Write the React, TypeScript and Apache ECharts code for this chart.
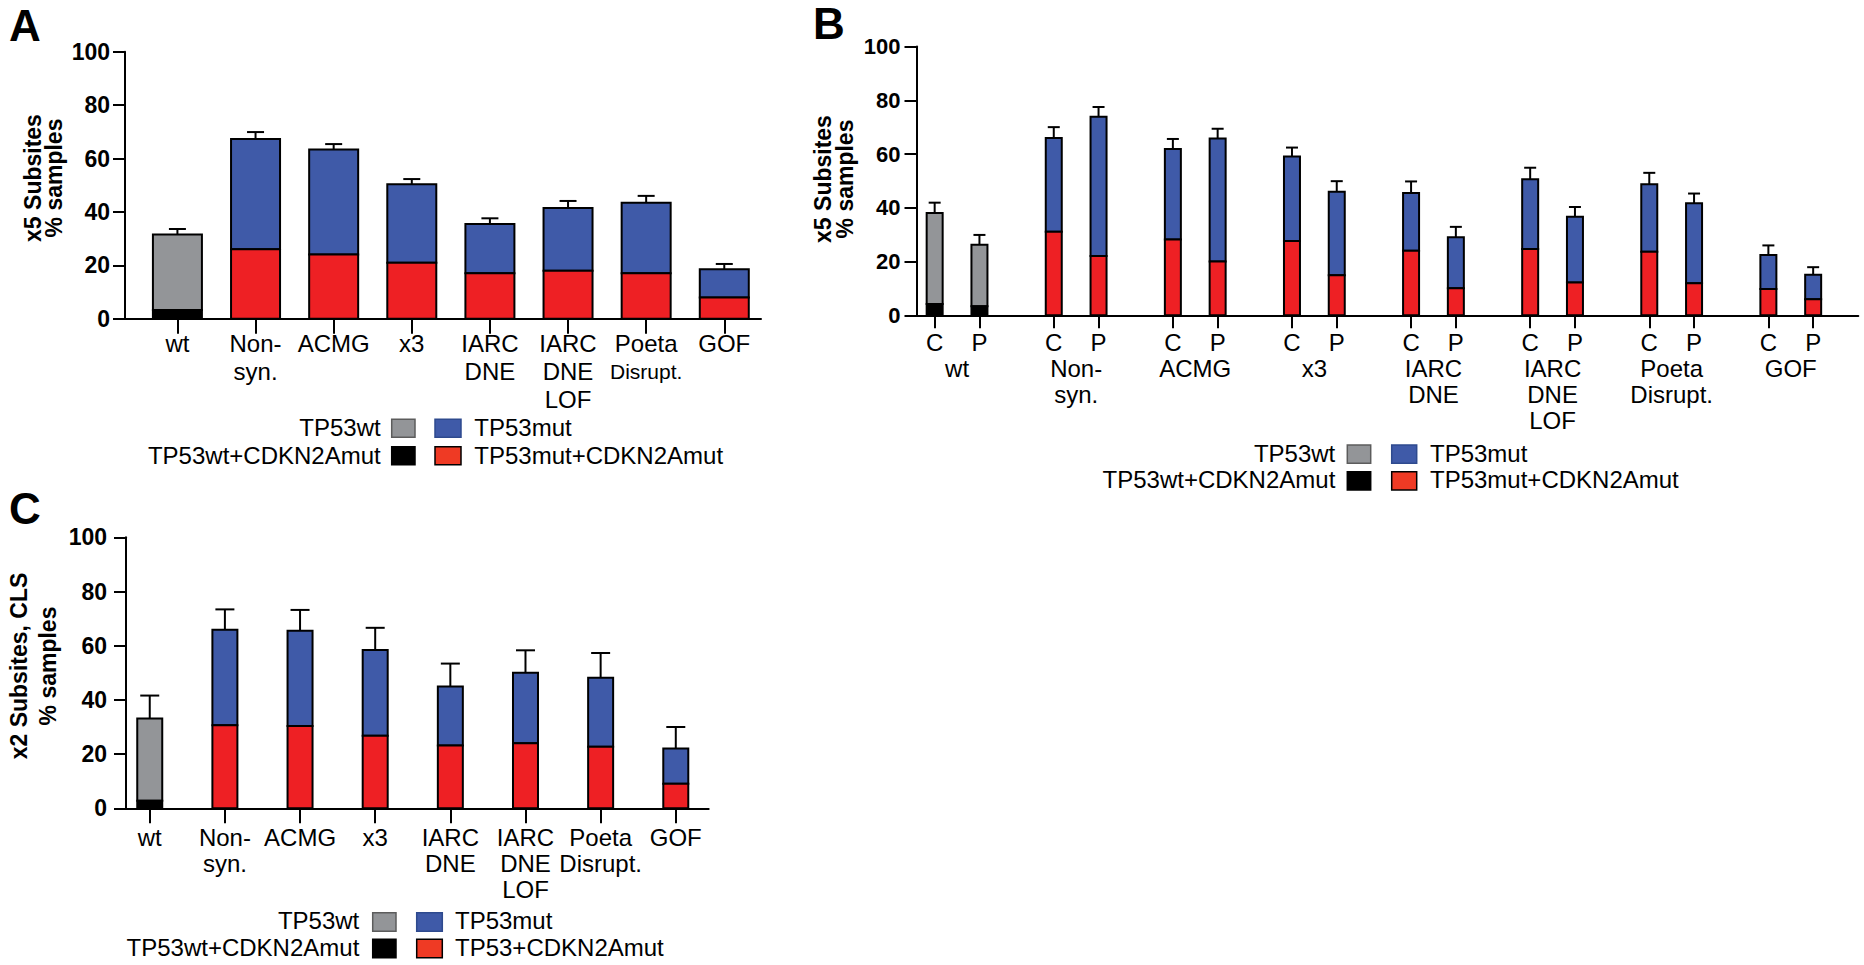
import React, { useEffect, useRef } from 'react';
import * as echarts from 'echarts';

const FONT = '"Liberation Sans", Arial, Helvetica, sans-serif';

// ---------- data ----------
const groupLabels = ['wt', 'Non-\nsyn.', 'ACMG', 'x3', 'IARC\nDNE', 'IARC\nDNE\nLOF', 'Poeta\nDisrupt.', 'GOF'];
const pairLabels = ['C', 'P'];

// Panel A – x5 Subsites
const aCoMut = [3.3, 26.0, 24.0, 21.0, 17.0, 18.0, 17.0, 7.9];
const aTotal = [31.5, 67.3, 63.4, 50.4, 35.5, 41.5, 43.4, 18.5];
const aSem = [2.1, 2.6, 2.0, 1.9, 2.1, 2.6, 2.6, 2.0];

// Panel B – x5 Subsites, C and P
const bCoMutC = [4.2, 31.1, 28.2, 27.6, 24.0, 24.7, 23.6, 9.8];
const bTotalC = [38.1, 66.0, 61.9, 59.1, 45.5, 50.6, 48.8, 22.4];
const bSemC = [3.8, 4.0, 3.7, 3.3, 4.3, 4.3, 4.2, 3.6];
const bCoMutP = [3.4, 22.1, 20.0, 14.9, 10.1, 12.2, 11.9, 6.0];
const bTotalP = [26.2, 73.9, 65.8, 46.0, 29.0, 36.7, 41.7, 15.1];
const bSemP = [3.7, 3.6, 3.6, 3.9, 3.9, 3.6, 3.6, 2.8];

// Panel C – x2 Subsites, CLS
const cCoMut = [2.8, 30.6, 30.4, 26.8, 23.2, 24.0, 22.7, 9.1];
const cTotal = [33.1, 65.9, 65.5, 58.4, 44.9, 50.0, 48.2, 22.1];
const cSem = [8.5, 7.5, 7.7, 8.2, 8.5, 8.3, 9.1, 7.9];

const legendAB = ['TP53wt', 'TP53mut', 'TP53wt+CDKN2Amut', 'TP53mut+CDKN2Amut'];
const legendC = ['TP53wt', 'TP53mut', 'TP53wt+CDKN2Amut', 'TP53+CDKN2Amut'];

// ---------- styles ----------
const GRAY = '#939598';
const BLACK = '#000000';
const BLUE = '#3F5AA8';
const RED = '#EE2024';
const LEG_RED = '#EF3A24';
const PAIR_OFFSET = 0.188;

const groupIdx = groupLabels.map((_, i) => i);

// stacked bar (co-mutated part at the bottom, remainder on top) + upper SEM bar
function stackedBarSeries(xAxisIndex: number, yAxisIndex: number, xs: number[], base: number[], total: number[], sem: number[], wt: boolean[], barWidth: number, capWidth: number) {
  return {
    type: 'custom', xAxisIndex, yAxisIndex, silent: true,
    data: xs.map((x, i) => [x, base[i], total[i], +(total[i] + sem[i]).toFixed(2), wt[i] ? 1 : 0]),
    encode: { x: 0, y: [1, 2, 3] },
    renderItem: (_p: any, api: any) => {
      const x = api.value(0);
      const isWt = api.value(4) === 1;
      const p0 = api.coord([x, 0]);
      const pb = api.coord([x, api.value(1)]);
      const pt = api.coord([x, api.value(2)]);
      const pe = api.coord([x, api.value(3)]);
      const left = p0[0] - barWidth / 2;
      const line = { stroke: '#000', lineWidth: 2 };
      return {
        type: 'group',
        children: [
          { type: 'line', shape: { x1: pt[0], y1: pt[1], x2: pe[0], y2: pe[1] }, style: line },
          { type: 'line', shape: { x1: pe[0] - capWidth / 2, y1: pe[1], x2: pe[0] + capWidth / 2, y2: pe[1] }, style: line },
          { type: 'rect', shape: { x: left, y: pt[1], width: barWidth, height: pb[1] - pt[1] }, style: { fill: isWt ? GRAY : BLUE, stroke: '#000', lineWidth: 2 } },
          { type: 'rect', shape: { x: left, y: pb[1], width: barWidth, height: p0[1] - pb[1] }, style: { fill: isWt ? BLACK : RED, stroke: '#000', lineWidth: 2 } },
        ],
      };
    },
  };
}

function yAxis(gridIndex: number, margin: number, fontSize: number) {
  return {
    type: 'value', gridIndex, min: 0, max: 100, interval: 20,
    axisLine: { show: true, onZero: false, lineStyle: { color: '#000', width: 2 } },
    axisTick: { show: true, length: 12, lineStyle: { color: '#000', width: 2 } },
    axisLabel: { color: '#000', fontSize, fontWeight: 'bold', fontFamily: FONT, margin },
    splitLine: { show: false },
  };
}

function xAxis(gridIndex: number, min: number, max: number, ticks: number[], formatter: (v: number) => string, opts: any) {
  return {
    type: 'value', gridIndex, min, max, position: 'bottom',
    axisLine: { show: opts.line !== false, onZero: false, lineStyle: { color: '#000', width: 2 } },
    axisTick: { show: opts.line !== false, length: opts.tickLen || 15, customValues: ticks, lineStyle: { color: '#000', width: 2 } },
    axisLabel: {
      customValues: ticks, formatter, color: '#000', fontSize: 24, fontFamily: FONT,
      lineHeight: opts.lineHeight, margin: opts.margin,
      rich: { s: { fontSize: 21, fontFamily: FONT, color: '#000', lineHeight: opts.lineHeight } },
    },
    splitLine: { show: false },
  };
}

function legend(labels: string[], textRight: number, boxL: number, boxR: number, textL: number, rows: number[], boxTops: number[], boxW: [number, number], boxH: number) {
  const font = '24px ' + FONT;
  const els: any[] = [];
  const fills = [[GRAY, BLUE], [BLACK, LEG_RED]];
  const strokes = [['#5c5c5c', '#2E4A8E'], ['#000', '#000']];
  rows.forEach((cy, r) => {
    els.push({ type: 'text', x: textRight, y: cy, style: { text: labels[r * 2], font, fill: '#000', textAlign: 'right', align: 'right', textVerticalAlign: 'middle', verticalAlign: 'middle' } });
    els.push({ type: 'rect', shape: { x: boxL, y: boxTops[r], width: boxW[0], height: boxH }, style: { fill: fills[r][0], stroke: strokes[r][0], lineWidth: 1.5 } });
    els.push({ type: 'rect', shape: { x: boxR, y: boxTops[r], width: boxW[1], height: boxH }, style: { fill: fills[r][1], stroke: strokes[r][1], lineWidth: 1.5 } });
    els.push({ type: 'text', x: textL, y: cy, style: { text: labels[r * 2 + 1], font, fill: '#000', textAlign: 'left', align: 'left', textVerticalAlign: 'middle', verticalAlign: 'middle' } });
  });
  return els;
}

function panelLetter(t: string, x: number, y: number) {
  return { type: 'text', x, y, style: { text: t, font: 'bold 44px ' + FONT, fill: '#000', textAlign: 'left', align: 'left', textVerticalAlign: 'top', verticalAlign: 'top' } };
}

function yTitle(t: string, x: number, y: number, lineHeight: number) {
  return {
    type: 'text', x, y, rotation: Math.PI / 2,
    style: { text: t, font: 'bold 23px ' + FONT, fill: '#000', lineHeight, textAlign: 'center', align: 'center', textVerticalAlign: 'middle', verticalAlign: 'middle' },
  };
}

export default function App() {
  const ref = useRef<HTMLDivElement>(null);
  useEffect(() => {
    if (!ref.current) return;
    const chart = echarts.init(ref.current, undefined, { renderer: 'svg' });

    const wt = groupLabels.map((g) => g === 'wt');
    const bXs: number[] = [];
    const bCo: number[] = [];
    const bTot: number[] = [];
    const bSem: number[] = [];
    const bWt: boolean[] = [];
    groupIdx.forEach((g) => {
      bXs.push(g - PAIR_OFFSET, g + PAIR_OFFSET);
      bCo.push(bCoMutC[g], bCoMutP[g]);
      bTot.push(bTotalC[g], bTotalP[g]);
      bSem.push(bSemC[g], bSemP[g]);
      bWt.push(wt[g], wt[g]);
    });

    const nameAt = (v: number) => groupLabels[Math.round(v)] || '';
    const nameA = (v: number) => nameAt(v).replace('Disrupt.', '{s|Disrupt.}');
    const pairAt = (v: number) => (v < Math.round(v) ? pairLabels[0] : pairLabels[1]);

    const option: any = {
      animation: false,
      backgroundColor: '#ffffff',
      grid: [
        { left: 125, top: 51.7, width: 636, height: 267, outerBoundsMode: 'none', containLabel: false },
        { left: 916.5, top: 46.5, width: 941.8, height: 268.8, outerBoundsMode: 'none', containLabel: false },
        { left: 126, top: 537.3, width: 582.7, height: 271, outerBoundsMode: 'none', containLabel: false },
      ],
      xAxis: [
        xAxis(0, -0.671, 7.47, groupIdx, nameA, { margin: 10.5, lineHeight: 28, tickLen: 15 }),
        xAxis(1, -0.3405, 7.567, bXs, pairAt, { margin: 15, lineHeight: 24, tickLen: 13 }),
        xAxis(1, -0.3405, 7.567, groupIdx, nameAt, { margin: 40.5, lineHeight: 26, line: false }),
        xAxis(2, -0.316, 7.438, groupIdx, nameAt, { margin: 16, lineHeight: 26, tickLen: 15 }),
      ],
      yAxis: [yAxis(0, 15, 23), yAxis(1, 16, 22), yAxis(2, 19, 23)],
      series: [
        stackedBarSeries(0, 0, groupIdx, aCoMut, aTotal, aSem, wt, 49, 17),
        stackedBarSeries(1, 1, bXs, bCo, bTot, bSem, bWt, 16, 12),
        stackedBarSeries(3, 2, groupIdx, cCoMut, cTotal, cSem, wt, 25, 19),
      ],
      graphic: {
        elements: [
          panelLetter('A', 9, 3),
          panelLetter('B', 813, 1),
          panelLetter('C', 9, 486),
          yTitle('x5 Subsites\n% samples', 43, 178, 21),
          yTitle('x5 Subsites\n% samples', 834, 179, 22),
          yTitle('x2 Subsites, CLS\n% samples', 33, 666, 29),
          ...legend(legendAB, 380.7, 391.7, 435, 474.3, [427, 455], [419.3, 446.7], [23.3, 26], 18),
          ...legend(legendAB, 1335.3, 1347.3, 1391.7, 1430, [453, 479.5], [445, 471.7], [23.4, 25], 18.3),
          ...legend(legendC, 359.3, 372.7, 416.7, 455, [920.5, 947.5], [912.7, 939.3], [23.3, 25.6], 18.5),
        ],
      },
    };
    chart.setOption(option);
    return () => chart.dispose();
  }, []);
  return <div ref={ref} style={{ position: 'absolute', left: 0, top: 0, width: 1864, height: 965, background: '#fff' }} />;
}
